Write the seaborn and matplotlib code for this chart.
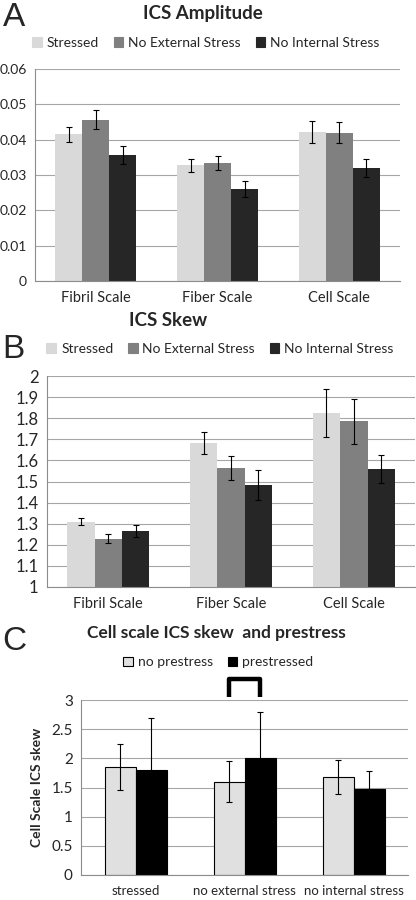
import pandas as pd
import matplotlib
matplotlib.use('Agg')
import matplotlib.pyplot as plt
import seaborn as sns
from matplotlib.patches import Patch
from matplotlib.ticker import FixedLocator, FuncFormatter

# Datos
escalas = ['Fibril Scale', 'Fiber Scale', 'Cell Scale']
condiciones = ['Stressed', 'No External Stress', 'No Internal Stress']

amp_stressed = [0.0415, 0.0327, 0.0423]
amp_no_ext = [0.0457, 0.0335, 0.0420]
amp_no_int = [0.0357, 0.0260, 0.0320]
amp_err_stressed = [0.0021, 0.0018, 0.0031]
amp_err_no_ext = [0.0028, 0.0020, 0.0030]
amp_err_no_int = [0.0026, 0.0022, 0.0025]

skew_stressed = [1.310, 1.682, 1.825]
skew_no_ext = [1.228, 1.565, 1.785]
skew_no_int = [1.267, 1.483, 1.558]
skew_err_stressed = [0.017, 0.051, 0.112]
skew_err_no_ext = [0.021, 0.056, 0.107]
skew_err_no_int = [0.028, 0.073, 0.067]

grupos_c = ['stressed', 'no external stress', 'no internal stress']
series_c = ['no prestress', 'prestressed']
c_no_prestress = [1.85, 1.60, 1.68]
c_prestressed = [1.80, 2.00, 1.48]
c_err_no_prestress = [0.40, 0.35, 0.29]
c_err_prestressed = [0.89, 0.79, 0.31]

col_abc = ['#d9d9d9', '#808080', '#262626']
col_c = ['#e0e0e0', '#000000']


def armar_df(cats, series, valores, errores):
    filas = []
    for s, vals, errs in zip(series, valores, errores):
        for c, v, e in zip(cats, vals, errs):
            filas.append({'cat': c, 'serie': s, 'valor': v, 'err': e})
    return pd.DataFrame(filas)


def panel(ax, df, cats, series, colores, ancho, borde=None, ytam=10, xtam=10.5):
    sns.barplot(data=df, x='cat', y='valor', hue='serie', order=cats, hue_order=series,
                palette=colores, width=ancho, errorbar=None, legend=False,
                saturation=1, ax=ax, edgecolor=borde if borde else 'none',
                linewidth=0.8 if borde else 0)
    for cont, s in zip(ax.containers, series):
        sub = df[df['serie'] == s].set_index('cat').loc[cats]
        xs = [b.get_x() + b.get_width() / 2 for b in cont]
        ax.errorbar(xs, sub['valor'], yerr=sub['err'], fmt='none', ecolor='black',
                    elinewidth=0.8, capsize=2.4, capthick=0.8, zorder=5)
    ax.set_xlabel('')
    ax.set_ylabel('')
    ax.set_xlim(-0.5, len(cats) - 0.5)
    ax.yaxis.grid(True, color='#a6a6a6', linewidth=0.8)
    ax.set_axisbelow(True)
    for lado in ['top', 'right']:
        ax.spines[lado].set_visible(False)
    for lado in ['left', 'bottom']:
        ax.spines[lado].set_color('#8c8c8c')
        ax.spines[lado].set_linewidth(0.8)
    ax.tick_params(axis='y', length=4, color='#8c8c8c', labelsize=ytam, pad=2)
    ax.tick_params(axis='x', which='major', length=0, labelsize=xtam, pad=7)
    ax.xaxis.set_minor_locator(FixedLocator([i - 0.5 for i in range(len(cats) + 1)]))
    ax.tick_params(axis='x', which='minor', length=5, color='#8c8c8c')
    ax.yaxis.set_major_formatter(FuncFormatter(lambda v, p: f'{v:g}'))


def leyenda(fig, series, colores, y, x, borde=None):
    handles = [Patch(facecolor=c, edgecolor=borde if borde else c, linewidth=0.8) for c in colores]
    fig.legend(handles, series, loc='center', bbox_to_anchor=(x, y), ncol=len(series),
               frameon=False, fontsize=10, handlelength=0.7, handleheight=0.7,
               handletextpad=0.35, columnspacing=1.05, borderpad=0)


def letra(fig, txt, y):
    fig.text(0.006, y, txt, ha='left', va='baseline', fontsize=24, family='Liberation Sans')


sns.set_style('white')
plt.rcParams['font.family'] = ['Lato', 'DejaVu Sans']

fig = plt.figure(figsize=(4.16, 9), dpi=100)

# Panel A
ax_a = fig.add_axes([0.084, 0.6878, 0.878, 0.2355])
df_a = armar_df(escalas, condiciones, [amp_stressed, amp_no_ext, amp_no_int],
                [amp_err_stressed, amp_err_no_ext, amp_err_no_int])
panel(ax_a, df_a, escalas, condiciones, col_abc, 0.665, ytam=10)
ax_a.set_ylim(0, 0.06)
ax_a.set_yticks([0, 0.01, 0.02, 0.03, 0.04, 0.05, 0.06])
fig.text(0.488, 0.985, 'ICS Amplitude', ha='center', va='center', fontsize=13.5, fontweight='bold')
letra(fig, 'A', 0.9711)
leyenda(fig, condiciones, col_abc, 0.952, 0.495)

# Panel B
ax_b = fig.add_axes([0.113, 0.3478, 0.885, 0.2344])
df_b = armar_df(escalas, condiciones, [skew_stressed, skew_no_ext, skew_no_int],
                [skew_err_stressed, skew_err_no_ext, skew_err_no_int])
panel(ax_b, df_b, escalas, condiciones, col_abc, 0.67, ytam=12)
ax_b.set_ylim(1, 2)
ax_b.set_yticks([1 + i / 10 for i in range(11)])
fig.text(0.405, 0.644, 'ICS Skew', ha='center', va='center', fontsize=13.5, fontweight='bold')
letra(fig, 'B', 0.6022)
leyenda(fig, condiciones, col_abc, 0.612, 0.529)

# Panel C
ax_c = fig.add_axes([0.195, 0.0278, 0.786, 0.1944])
df_c = armar_df(grupos_c, series_c, [c_no_prestress, c_prestressed],
                [c_err_no_prestress, c_err_prestressed])
panel(ax_c, df_c, grupos_c, series_c, col_c, 0.57, borde='black', ytam=11, xtam=9.5)
ax_c.set_ylim(0, 3)
ax_c.set_yticks([0, 0.5, 1, 1.5, 2, 2.5, 3])
ax_c.set_ylabel('Cell Scale ICS skew', fontsize=10, fontweight='bold', labelpad=6)
fig.text(0.52, 0.297, 'Cell scale ICS skew  and prestress', ha='center', va='center',
         fontsize=12.5, fontweight='bold')
letra(fig, 'C', 0.2778)
leyenda(fig, series_c, col_c, 0.264, 0.525, borde='black')

# Corchete sobre "no external stress"
xs_b = [b.get_x() + b.get_width() / 2 for b in (ax_c.containers[0][1], ax_c.containers[1][1])]
ax_c.plot([xs_b[0], xs_b[0], xs_b[1], xs_b[1]], [3.05, 3.36, 3.36, 3.05], color='black',
          linewidth=3.2, clip_on=False, solid_joinstyle='round', solid_capstyle='butt')

fig.savefig('out.png', dpi=100)
